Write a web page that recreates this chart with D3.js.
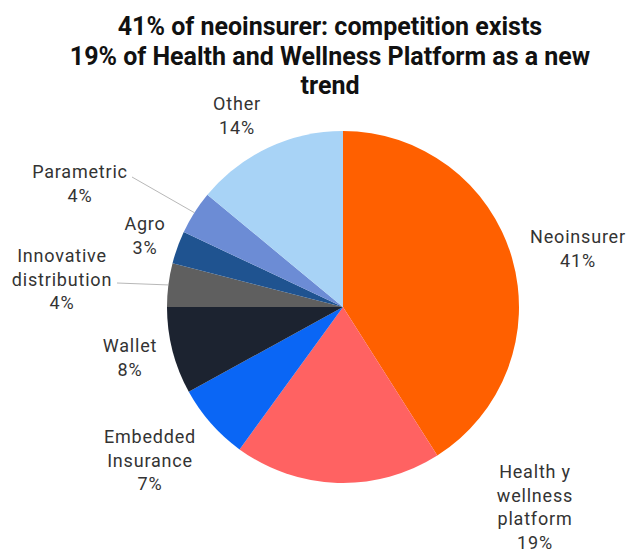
<!DOCTYPE html>
<html>
<head>
<meta charset="utf-8">
<script src="https://cdn.jsdelivr.net/npm/d3@7"></script>
<style>
  html, body { margin: 0; padding: 0; background: #fff; }
  svg { display: block; font-family: Roboto, "Noto Sans", sans-serif; }
</style>
</head>
<body>
<svg id="chart" width="635" height="550"></svg>
<script>
// Segment names, shares (%) and slice colours, in clockwise order from 12 o'clock
const categories = ["Neoinsurer", "Health y wellness platform", "Embedded Insurance", "Wallet",
                    "Innovative distribution", "Agro", "Parametric", "Other"];
const shares = [41, 19, 7, 8, 4, 3, 4, 14];
const colors = ["#ff6000", "#ff6262", "#0a66f5", "#1c2330", "#5f5f5f", "#1f5390", "#6c8cd5", "#a8d3f6"];
// Label text broken into lines (the percentage line is added from the shares)
const labelLines = [["Neoinsurer"], ["Health y", "wellness", "platform"], ["Embedded", "Insurance"], ["Wallet"],
                    ["Innovative", "distribution"], ["Agro"], ["Parametric"], ["Other"]];
const titleLines = ["41% of neoinsurer: competition exists",
                    "19% of Health and Wellness Platform as a new",
                    "trend"];

// Layout
const cx = 343, cy = 307, radius = 176;
// Label block centres relative to the pie centre (first-line baseline), px
const labelPos = [[235, -64], [192, 171], [-193, 136], [-213, 45], [-281, -45], [-198, -77], [-263, -129], [-106, -197]];
// Leader lines: which labels get one and where the line leaves the text
const leaderFrom = { 4: [-226, -24], 6: [-211, -130] };

const svg = d3.select("#chart");

// Title
svg.append("g").selectAll("text")
  .data(titleLines).join("text")
  .attr("x", 330).attr("y", (d, i) => 35 + i * 29.5)
  .attr("text-anchor", "middle")
  .attr("font-size", 25).attr("font-weight", 700).attr("fill", "#111")
  .text(d => d);

const pie = d3.pie().sort(null).value(d => d)(shares);
const arc = d3.arc().innerRadius(0).outerRadius(radius);

const g = svg.append("g").attr("transform", `translate(${cx},${cy})`);

// Slices
g.selectAll("path.slice")
  .data(pie).join("path")
  .attr("class", "slice")
  .attr("d", arc)
  .attr("fill", (d, i) => colors[i]);

// Leader lines from label to the middle of the slice rim
Object.keys(leaderFrom).forEach(k => {
  const i = +k;
  const p = pie[i];
  const mid = (p.startAngle + p.endAngle) / 2;
  const end = [Math.sin(mid) * radius, -Math.cos(mid) * radius];
  g.append("line")
    .attr("x1", leaderFrom[i][0]).attr("y1", leaderFrom[i][1])
    .attr("x2", end[0]).attr("y2", end[1])
    .attr("stroke", "#b8b8b8").attr("stroke-width", 1);
});

// Category labels with their percentage
const labels = g.selectAll("text.lbl")
  .data(pie).join("text")
  .attr("class", "lbl")
  .attr("text-anchor", "middle")
  .attr("font-size", 18)
  .attr("letter-spacing", 0.8)
  .attr("fill", "#333");

labels.each(function(d, i) {
  const lines = labelLines[i].concat([shares[i] + "%"]);
  d3.select(this).selectAll("tspan")
    .data(lines).join("tspan")
    .attr("x", labelPos[i][0])
    .attr("y", (t, j) => labelPos[i][1] + j * 23.5)
    .text(t => t);
});
</script>
</body>
</html>
